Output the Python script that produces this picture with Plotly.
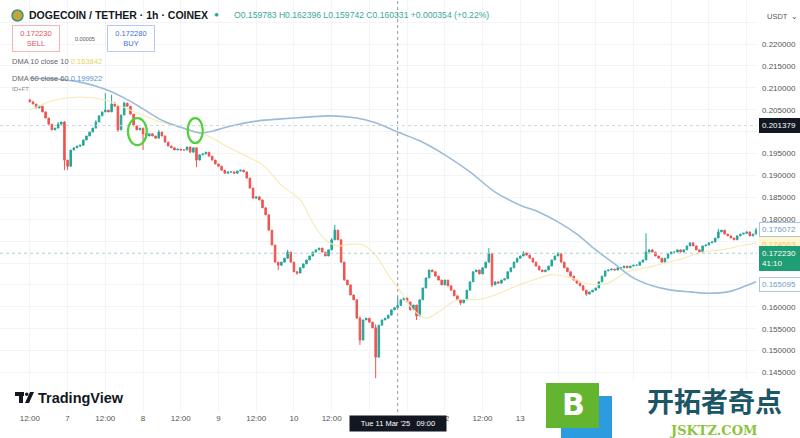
import pandas as pd
import plotly.graph_objects as go

# ---------------- data ----------------
START = "2025-03-06 12:00"

closes = [
    0.2068, 0.2063, 0.2054, 0.2058, 0.2045, 0.2031, 0.2017, 0.2004, 0.2008, 0.2017,
    0.2022, 0.1935, 0.1921, 0.1958, 0.1963, 0.1967, 0.1969, 0.1981, 0.1990, 0.1999,
    0.2008, 0.2022, 0.2036, 0.2045, 0.2049, 0.2045, 0.2063, 0.2058, 0.2004, 0.2038,
    0.2065, 0.2058, 0.2040, 0.2013, 0.2004, 0.2008, 0.1995, 0.1990, 0.1995, 0.1990,
    0.1985, 0.1999, 0.1990, 0.1976, 0.1967, 0.1963, 0.1958, 0.1960, 0.1958, 0.1958,
    0.1965, 0.1953, 0.1963, 0.1935, 0.1947, 0.1949, 0.1953, 0.1944, 0.1935, 0.1926,
    0.1921, 0.1912, 0.1905, 0.1908, 0.1908, 0.1905, 0.1910, 0.1912, 0.1908, 0.1894,
    0.1871, 0.1848, 0.1851, 0.1844, 0.1826, 0.1810, 0.1775, 0.1741, 0.1702, 0.1695,
    0.1702, 0.1711, 0.1725, 0.1702, 0.1680, 0.1677, 0.1689, 0.1698, 0.1707, 0.1716,
    0.1725, 0.1730, 0.1734, 0.1725, 0.1716, 0.1730, 0.1753, 0.1775, 0.1753, 0.1702,
    0.1661, 0.1650, 0.1627, 0.1616, 0.1574, 0.1524, 0.1570, 0.1574, 0.1565, 0.1552,
    0.1485, 0.1558, 0.1570, 0.1574, 0.1581, 0.1593, 0.1598, 0.1603, 0.1616, 0.1620,
    0.1611, 0.1593, 0.1604, 0.1579, 0.1616, 0.1643, 0.1666, 0.1684, 0.1680, 0.1670,
    0.1661, 0.1650, 0.1661, 0.1648, 0.1638, 0.1625, 0.1616, 0.1609, 0.1616, 0.1638,
    0.1657, 0.1680, 0.1684, 0.1675, 0.1689, 0.1702, 0.1721, 0.1650, 0.1657, 0.1654,
    0.1661, 0.1664, 0.1680, 0.1689, 0.1702, 0.1711, 0.1716, 0.1723, 0.1718, 0.1711,
    0.1702, 0.1693, 0.1684, 0.1680, 0.1684, 0.1693, 0.1707, 0.1716, 0.1721, 0.1702,
    0.1689, 0.1680, 0.1670, 0.1661, 0.1654, 0.1648, 0.1638, 0.1629, 0.1634, 0.1638,
    0.1643, 0.1657, 0.1670, 0.1682, 0.1684, 0.1686, 0.1684, 0.1689, 0.1689, 0.1693,
    0.1689, 0.1693, 0.1695, 0.1695, 0.1702, 0.1707, 0.1725, 0.1730, 0.1725, 0.1716,
    0.1711, 0.1702, 0.1711, 0.1721, 0.1725, 0.1725, 0.1730, 0.1725, 0.1730, 0.1739,
    0.1746, 0.1739, 0.1730, 0.1725, 0.1739, 0.1741, 0.1746, 0.1748, 0.1757, 0.1771,
    0.1775, 0.1766, 0.1762, 0.1757, 0.1753, 0.1762, 0.1766, 0.1768, 0.1771, 0.1762,
    0.1766, 0.1775,
]
first_open = 0.2072

# visible wick extremes (candle index -> price)
high_wicks = {0: 0.2075, 9: 0.2022, 11: 0.2024, 21: 0.2026, 24: 0.2088, 26: 0.2084,
              27: 0.2068, 30: 0.2068, 36: 0.2004, 41: 0.2004, 53: 0.1953, 82: 0.1730,
              96: 0.1757, 97: 0.1787, 105: 0.1578, 110: 0.1560, 117: 0.1624,
              123: 0.1604, 146: 0.1734, 157: 0.1727, 168: 0.1725, 196: 0.1768,
              219: 0.1778, 231: 0.1780}
low_wicks = {11: 0.1912, 12: 0.1912, 16: 0.1965, 28: 0.2000, 36: 0.1958, 53: 0.1919,
             79: 0.1684, 85: 0.1673, 105: 0.1513, 110: 0.1437, 117: 0.1597,
             123: 0.1570, 137: 0.1604, 147: 0.1645, 177: 0.1625}

dma10_hours = [0, 8, 16, 24, 32, 40, 48, 56, 62, 68, 74, 80, 86, 90, 94, 98, 102, 106,
               110, 114, 118, 122, 126, 130, 136, 142, 148, 154, 160, 166, 172, 178,
               184, 190, 196, 202, 208, 214, 220, 226, 231]
dma10_values = [0.2049, 0.2072, 0.2079, 0.2072, 0.2049, 0.2026, 0.2010, 0.1992, 0.1969,
                0.1947, 0.1924, 0.1878, 0.1844, 0.1792, 0.1753, 0.1739, 0.1743, 0.1741,
                0.1718, 0.1673, 0.1634, 0.1593, 0.1574, 0.1588, 0.1616, 0.1616, 0.1627,
                0.1645, 0.1661, 0.1673, 0.1666, 0.1652, 0.1654, 0.1680, 0.1689, 0.1700,
                0.1711, 0.1725, 0.1730, 0.1739, 0.1746]

dma60_hours = [0, 8, 16, 24, 30, 36, 42, 48, 54, 58, 64, 72, 80, 88, 96, 104, 110, 117,
               124, 132, 140, 148, 156, 162, 168, 174, 180, 186, 192, 198, 204, 210,
               216, 222, 226, 231]
dma60_values = [0.2122, 0.2120, 0.2113, 0.2097, 0.2077, 0.2052, 0.2026, 0.2010, 0.1997,
                0.2001, 0.2013, 0.2024, 0.2029, 0.2033, 0.2036, 0.2031, 0.2020, 0.1999,
                0.1979, 0.1947, 0.1908, 0.1862, 0.1832, 0.1816, 0.1794, 0.1766, 0.1730,
                0.1698, 0.1666, 0.1648, 0.1638, 0.1634, 0.1631, 0.1634, 0.1643, 0.1657]

y_tickvals = [0.145, 0.150, 0.155, 0.160, 0.165, 0.170, 0.175, 0.180, 0.185, 0.190,
              0.195, 0.200, 0.205, 0.210, 0.215, 0.220, 0.225]
y_ticktext = ["0.145000", "0.150000", "0.155000", "0.160000", "", "", "", "0.180000",
              "0.185000", "0.190000", "0.195000", "", "0.205000", "0.210000",
              "0.215000", "0.220000", ""]

x_tick_hours = [0, 12, 24, 36, 48, 60, 72, 84, 96, 108, 120, 132, 144, 156, 168, 180,
                192, 204, 216, 228]
x_ticktext = ["12:00", "7", "12:00", "8", "12:00", "9", "12:00", "10", "12:00", "",
              "", "12", "12:00", "13", "", "", "", "", "", ""]

crosshair_index = 117
crosshair_price = 0.201379
last_price = 0.172230
circle_marks = [(34.2, 3.0, 0.2031, 0.1969), (52.6, 2.4, 0.2031, 0.1974)]

# ---------------- build ----------------
times = pd.date_range(START, periods=len(closes), freq="h")
opens = [first_open] + closes[:-1]
highs = [high_wicks.get(i, max(o, c)) for i, (o, c) in enumerate(zip(opens, closes))]
lows = [low_wicks.get(i, min(o, c)) for i, (o, c) in enumerate(zip(opens, closes))]
t0 = pd.Timestamp(START)
H = pd.Timedelta(hours=1)

W, HT = 757.0, 412.0  # plot-area size in px


def px(x):
    return x / W


def py(y):
    return 1 - y / HT


fig = go.Figure()
fig.add_trace(go.Candlestick(
    x=times, open=opens, high=highs, low=lows, close=closes,
    increasing=dict(line=dict(color="#26a69a", width=1), fillcolor="#26a69a"),
    decreasing=dict(line=dict(color="#ef5350", width=1), fillcolor="#ef5350"),
    whiskerwidth=0, showlegend=False, hoverinfo="skip"))
fig.add_trace(go.Scatter(
    x=[times[i] for i in dma10_hours], y=dma10_values, mode="lines",
    line=dict(color="#f6eab4", width=1.1, shape="spline"), showlegend=False,
    hoverinfo="skip"))
fig.add_trace(go.Scatter(
    x=[times[i] for i in dma60_hours], y=dma60_values, mode="lines",
    line=dict(color="#9dbbd8", width=1.6, shape="spline"), showlegend=False,
    hoverinfo="skip"))

shapes = []
# crosshair
shapes.append(dict(type="line", xref="x", yref="paper", x0=times[crosshair_index],
                   x1=times[crosshair_index], y0=0, y1=1,
                   line=dict(color="#9598a1", width=1, dash="dot")))
shapes.append(dict(type="line", xref="paper", yref="y", x0=0, x1=1,
                   y0=crosshair_price, y1=crosshair_price,
                   line=dict(color="#d3d5db", width=1, dash="dot")))
# last price line
shapes.append(dict(type="line", xref="paper", yref="y", x0=0, x1=1,
                   y0=last_price, y1=last_price,
                   line=dict(color="#a8d5cc", width=1, dash="dot")))
# green circles
for (ch, hw, ytop, ybot) in circle_marks:
    shapes.append(dict(type="circle", xref="x", yref="y",
                       x0=t0 + (ch - hw) * H, x1=t0 + (ch + hw) * H,
                       y0=ybot, y1=ytop, line=dict(color="#4fd13a", width=2.2)))
# white backing for watermark logo
shapes.append(dict(type="rect", xref="paper", yref="paper", x0=px(540), x1=px(800),
                   y0=py(438), y1=py(380), fillcolor="white", line=dict(width=0),
                   layer="above"))
# jsktz logo squares
shapes.append(dict(type="rect", xref="paper", yref="paper", x0=px(561), x1=px(612),
                   y0=py(438), y1=py(396), fillcolor="#2d9be0", line=dict(width=0),
                   layer="above"))
shapes.append(dict(type="rect", xref="paper", yref="paper", x0=px(546), x1=px(599),
                   y0=py(428), y1=py(383), fillcolor="#63b52f", line=dict(width=0),
                   layer="above"))
# TradingView icon
shapes.append(dict(type="rect", xref="paper", yref="paper", x0=px(15), x1=px(24),
                   y0=py(396), y1=py(392), fillcolor="#131722", line=dict(width=0),
                   layer="above"))
shapes.append(dict(type="rect", xref="paper", yref="paper", x0=px(19), x1=px(23),
                   y0=py(403), y1=py(392), fillcolor="#131722", line=dict(width=0),
                   layer="above"))
shapes.append(dict(type="circle", xref="paper", yref="paper", x0=px(25), x1=px(28.5),
                   y0=py(396), y1=py(392.5), fillcolor="#131722", line=dict(width=0),
                   layer="above"))
shapes.append(dict(type="path", xref="paper", yref="paper",
                   path=f"M {px(30)} {py(392)} L {px(34)} {py(392)} L {px(29)} {py(403)} L {px(25)} {py(403)} Z",
                   fillcolor="#131722", line=dict(width=0), layer="above"))

FONT = "Liberation Sans, Arial, sans-serif"
ann = []


def text(x, y, s, size=8.5, color="#555", anchor="left", **kw):
    d = dict(xref="paper", yref="paper", x=px(x), y=py(y), text=s, showarrow=False,
             xanchor=anchor, yanchor="middle", font=dict(size=size, color=color,
                                                          family=kw.pop("family", FONT)))
    d.update(kw)
    ann.append(d)


# header
shapes.append(dict(type="circle", xref="paper", yref="paper", x0=px(12), x1=px(23),
                   y0=py(21), y1=py(10), fillcolor="#c3a634", line=dict(color="#3d8f8a", width=1.5),
                   layer="above"))
text(27, 15, "<b>DOGECOIN / TETHER · 1h · COINEX</b>", size=10.5, color="#131722")
text(216, 15, "●", size=8, color="#26a69a", anchor="center")
text(232, 15, "O0.159783 H0.162396 L0.159742 C0.160331 +0.000354 (+0.22%)", size=8.6,
     color="#3aa79a")
text(36, 38.5, "0.172230<br>SELL", size=7.5, color="#e0525c", anchor="center",
     bordercolor="#f3b3b7", borderwidth=1, borderpad=3, bgcolor="white", width=40,
     align="center")
text(85, 38.5, "0.00005", size=5.5, color="#555", anchor="center")
text(131, 38.5, "0.172280<br>BUY", size=7.5, color="#3a72e0", anchor="center",
     bordercolor="#b5c8f3", borderwidth=1, borderpad=3, bgcolor="white", width=40,
     align="center")
text(10, 61, "DMA 10 close 10 <span style='color:#e6d35a'>0.163842</span>", size=7.5,
     color="#666")
text(10, 78, "DMA 60 close 60 <span style='color:#5b8fd0'>0.199922</span>", size=7.5,
     color="#666")
text(10, 89, "ID+FT", size=6, color="#888")
text(765, 17, "USDT  ⌄", size=7.5, color="#555")


# right-axis value labels
def price_label(price, s, bg, fg, border=None, yshift=0):
    ann.append(dict(xref="paper", yref="y", x=1, y=price, xanchor="left", yanchor="middle",
                    xshift=2, yshift=yshift, text=s, showarrow=False, bgcolor=bg,
                    bordercolor=border or bg, borderwidth=1, borderpad=2, width=36,
                    align="left", font=dict(size=8, color=fg, family=FONT)))


price_label(crosshair_price, "0.201379", "#131722", "white")
price_label(0.176072, "0.176072", "white", "#6f9cc4", border="#a9c7e3", yshift=7)
price_label(0.17455, "0.174563", "#fff5cf", "#e0cf7a", border="#fff5cf", yshift=-1)
ann.append(dict(xref="paper", yref="y", x=1, y=last_price, xanchor="left", yanchor="top",
                xshift=2, yshift=7, text="0.172230<br>41:10", showarrow=False,
                bgcolor="#1f9d74", bordercolor="#1f9d74", borderwidth=1, borderpad=2,
                width=36, align="left", font=dict(size=8, color="white", family=FONT)))
price_label(0.165095, "0.165095", "white", "#6f9cc4", border="#a9c7e3")

# crosshair time label
ann.append(dict(xref="x", yref="paper", x=times[crosshair_index], y=py(423),
                xanchor="center", yanchor="middle", text="Tue 11 Mar '25   09:00",
                showarrow=False, bgcolor="#131722", borderpad=3, width=90,
                font=dict(size=7.5, color="white", family=FONT)))

# watermarks
text(36, 397.5, "<b>TradingView</b>", size=14.5, color="#131722")
text(573, 404, "<b>B</b>", size=30, color="white", anchor="center",
     family="DejaVu Sans, sans-serif")
text(714, 400, "<b>开拓者奇点</b>", size=27, color="#1c5666", anchor="center",
     family="Noto Sans CJK SC")
text(713, 430, "<b>JSKTZ.COM</b>", size=13, color="#8cc43c", anchor="center",
     family="DejaVu Serif, serif")

fig.update_layout(
    width=800, height=438, margin=dict(l=0, r=43, t=0, b=26),
    paper_bgcolor="white", plot_bgcolor="white",
    shapes=shapes, annotations=ann, showlegend=False,
    xaxis=dict(range=[t0 - 9.5 * H, t0 + 231.3 * H], rangeslider=dict(visible=False),
               tickvals=[t0 + h * H for h in x_tick_hours], ticktext=x_ticktext,
               tickfont=dict(size=8, color="#555", family=FONT), showgrid=True,
               gridcolor="#f3f4f7", zeroline=False, showline=False, ticks=""),
    yaxis=dict(side="right", range=[0.13598, 0.23005], tickvals=y_tickvals,
               ticktext=y_ticktext, tickfont=dict(size=8, color="#555", family=FONT),
               showgrid=True, gridcolor="#f3f4f7", zeroline=False, showline=False,
               ticks="", ticklabelstandoff=4),
)

fig.write_html("out.html", config={"displayModeBar": False},
               post_script="document.body.style.margin='0';document.body.style.overflow='hidden';")
